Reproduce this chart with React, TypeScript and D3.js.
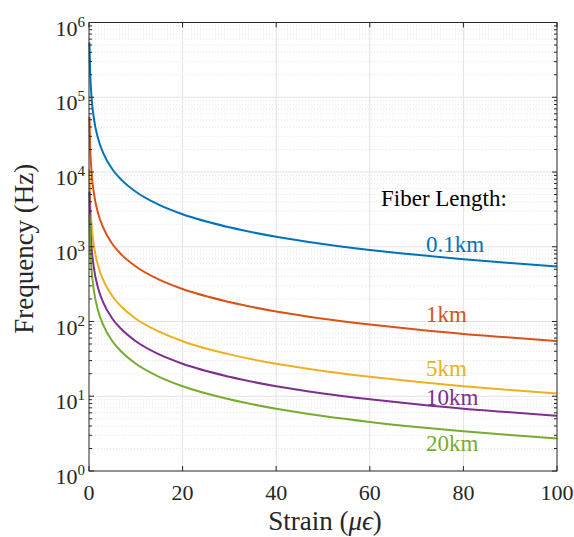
import React from "react";
import * as d3 from "d3";

// strain values (µε) at which the curves were read
const strain = [0.1, 0.2, 0.5, 1, 2, 3, 5, 7, 10, 15, 20, 30, 40, 50, 60, 70, 80, 90, 100];

// frequency (Hz) for each fiber length
const f01km = [540000, 272000, 109000, 54500, 27200, 18200, 10900, 7790, 5450, 3630, 2720, 1820, 1360, 1090, 908, 779, 681, 606, 545];
const f1km = [54500, 27200, 10900, 5450, 2720, 1820, 1090, 779, 545, 363, 272, 182, 136, 109, 91, 78, 68, 61, 54.5];
const f5km = [10900, 5450, 2180, 1090, 545, 363, 218, 156, 109, 73, 54.5, 36.3, 27.2, 21.8, 18.2, 15.6, 13.6, 12.1, 10.9];
const f10km = [5450, 2720, 1090, 545, 272, 182, 109, 78, 54.5, 36.3, 27.2, 18.2, 13.6, 10.9, 9.1, 7.8, 6.8, 6.1, 5.45];
const f20km = [2720, 1360, 545, 272, 136, 91, 54.5, 39, 27.2, 18.2, 13.6, 9.1, 6.8, 5.45, 4.54, 3.89, 3.4, 3.03, 2.72];

const seriesNames = ["0.1km", "1km", "5km", "10km", "20km"];
const seriesColors = ["#0072BD", "#D95319", "#EDB120", "#7E2F8E", "#77AC30"];
const seriesValues = [f01km, f1km, f5km, f10km, f20km];
// label anchor: strain and frequency where each label's baseline starts
const labelStrain = [72, 72, 72, 72, 72];
const labelFreq = [850, 98, 18.8, 7.6, 1.87];

const xTicks = [0, 20, 40, 60, 80, 100];
const yExponents = [0, 1, 2, 3, 4, 5, 6];

const W = 574;
const H = 537;
const m = { left: 89, right: 17, top: 22.5, bottom: 66 };
const font = "'Liberation Serif', 'Times New Roman', serif";
const ink = "#262626";

export default function App() {
  const x = d3.scaleLinear().domain([0, 100]).range([m.left, W - m.right]);
  const y = d3.scaleLog().domain([1, 1e6]).range([H - m.bottom, m.top]);

  const line = d3
    .line<number>()
    .x((_, i) => x(strain[i]))
    .y(d => y(d))
    .curve(d3.curveMonotoneX);

  const minor: number[] = [];
  for (let e = 0; e < 6; e++) for (let k = 2; k <= 9; k++) minor.push(k * Math.pow(10, e));

  const [x0, x1] = x.range();
  const [y0, y1] = y.range();

  return (
    <svg
      width={W}
      height={H}
      style={{ position: "absolute", left: 0, top: 0, background: "#fff" }}
      fontFamily={font}
    >
      {/* grid */}
      <g>
        {minor.map(v => (
          <line key={"mg" + v} x1={x0} x2={x1} y1={y(v)} y2={y(v)} stroke="#d4d4d4" strokeWidth={0.6} strokeDasharray="1,2" />
        ))}
        {yExponents.slice(1, -1).map(e => (
          <line key={"yg" + e} x1={x0} x2={x1} y1={y(Math.pow(10, e))} y2={y(Math.pow(10, e))} stroke="#e3e3e3" strokeWidth={1} />
        ))}
        {xTicks.slice(1, -1).map(t => (
          <line key={"xg" + t} x1={x(t)} x2={x(t)} y1={y0} y2={y1} stroke="#e3e3e3" strokeWidth={1} />
        ))}
      </g>

      {/* curves */}
      <g fill="none" strokeWidth={2}>
        {seriesValues.map((vals, i) => (
          <path key={seriesNames[i]} d={line(vals) || ""} stroke={seriesColors[i]} />
        ))}
      </g>

      {/* box and ticks */}
      <g stroke={ink} strokeWidth={1}>
        <rect x={x0} y={y1} width={x1 - x0} height={y0 - y1} fill="none" />
        {xTicks.map(t => (
          <g key={"xt" + t}>
            <line x1={x(t)} x2={x(t)} y1={y0} y2={y0 - 5} />
            <line x1={x(t)} x2={x(t)} y1={y1} y2={y1 + 5} />
          </g>
        ))}
        {yExponents.map(e => (
          <g key={"yt" + e}>
            <line x1={x0} x2={x0 + 5} y1={y(Math.pow(10, e))} y2={y(Math.pow(10, e))} />
            <line x1={x1} x2={x1 - 5} y1={y(Math.pow(10, e))} y2={y(Math.pow(10, e))} />
          </g>
        ))}
        {minor.map(v => (
          <g key={"ym" + v}>
            <line x1={x0} x2={x0 + 3} y1={y(v)} y2={y(v)} />
            <line x1={x1} x2={x1 - 3} y1={y(v)} y2={y(v)} />
          </g>
        ))}
      </g>

      {/* tick labels */}
      <g fill={ink} fontSize={22}>
        {xTicks.map(t => (
          <text key={"xl" + t} x={x(t)} y={y0 + 29} textAnchor="middle">
            {t}
          </text>
        ))}
        {yExponents.map(e => (
          <text key={"yl" + e} x={x0 - 4} y={y(Math.pow(10, e)) + 13} textAnchor="end">
            10
            <tspan fontSize={15} dy={-9}>
              {e}
            </tspan>
          </text>
        ))}
      </g>

      {/* axis titles */}
      <text x={(x0 + x1) / 2 + 2} y={530} textAnchor="middle" fontSize={27} fill={ink}>
        Strain (<tspan fontStyle="italic">μϵ</tspan>)
      </text>
      <text
        transform={`translate(33, ${(y0 + y1) / 2 + 2}) rotate(-90)`}
        textAnchor="middle"
        fontSize={27}
        fill={ink}
      >
        Frequency (Hz)
      </text>

      {/* annotations */}
      <text x={381} y={206} fontSize={23} fill="#000">
        Fiber Length:
      </text>
      {seriesNames.map((n, i) => (
        <text key={"lab" + n} x={x(labelStrain[i])} y={y(labelFreq[i])} fontSize={23} fill={seriesColors[i]}>
          {n}
        </text>
      ))}
    </svg>
  );
}
